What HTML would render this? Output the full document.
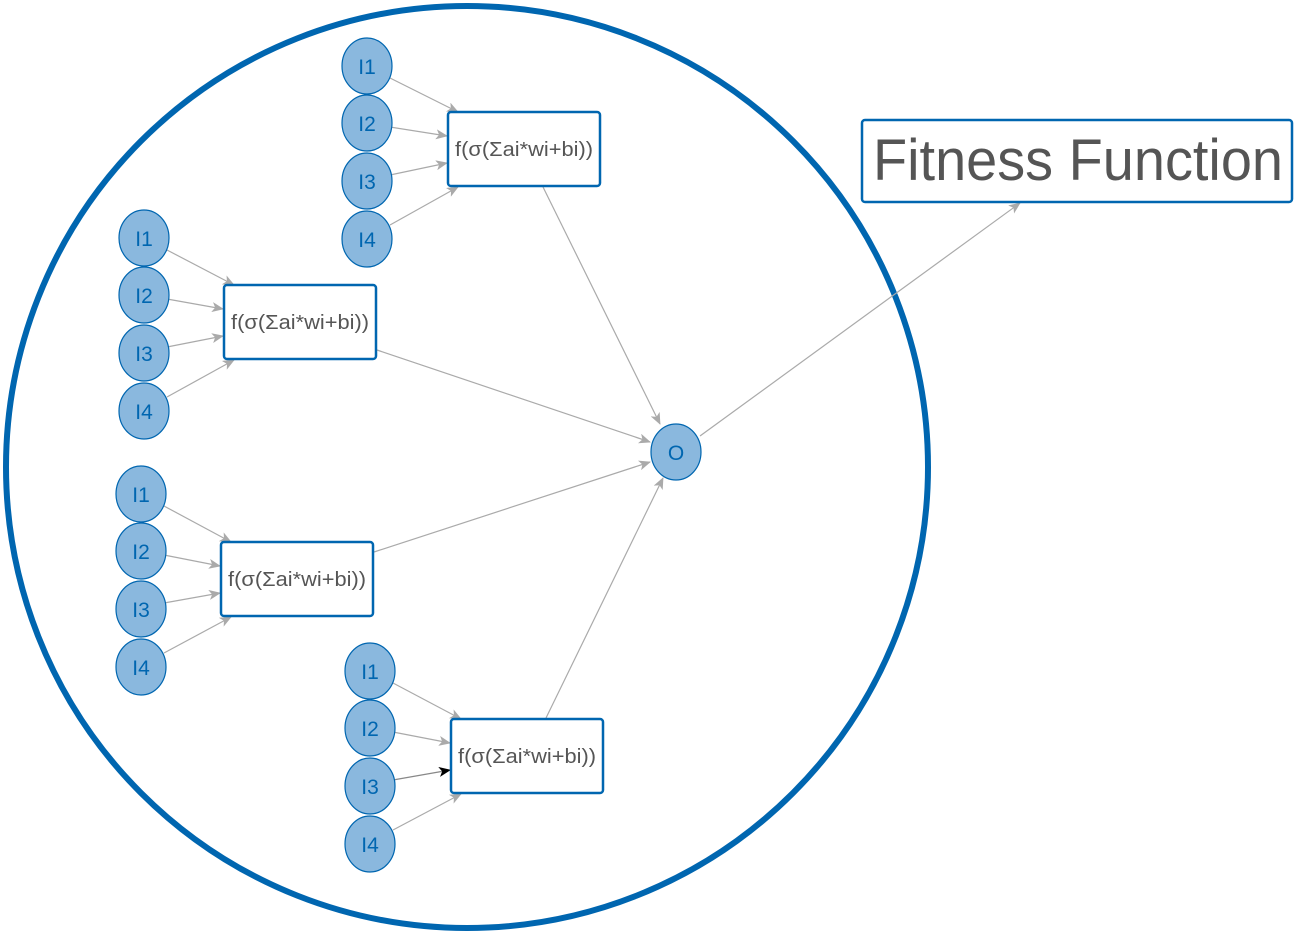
<!DOCTYPE html>
<html><head><meta charset="utf-8"><style>
body{margin:0;background:#fff;width:1294px;height:933px;overflow:hidden}
svg text{font-family:"Liberation Sans",sans-serif}
</style></head><body>
<svg width="1294" height="933" viewBox="0 0 1294 933">
<defs>
<marker id="ah" markerWidth="12" markerHeight="10" refX="11" refY="5" orient="auto" markerUnits="userSpaceOnUse"><path d="M0,0 L12,5 L0,10 L3,5 Z" fill="#aaa"/></marker>
<marker id="ahb" markerWidth="12" markerHeight="10" refX="11" refY="5" orient="auto" markerUnits="userSpaceOnUse"><path d="M0,0 L12,5 L0,10 L3,5 Z" fill="#000"/></marker>
</defs>
<circle cx="467" cy="467" r="461" fill="none" stroke="#0066b0" stroke-width="6"/>
<g id="g"></g>
<line x1="700" y1="436" x2="1020" y2="203" stroke="#aaa" stroke-width="1.2" marker-end="url(#ah)"/>
<rect x="862" y="120" width="430" height="82" rx="3" fill="#fff" stroke="#0066b0" stroke-width="2.5"/>
<text x="873" y="180" font-size="58" fill="#555" textLength="410" lengthAdjust="spacingAndGlyphs">Fitness Function</text>
<ellipse cx="676" cy="452" rx="25" ry="28" fill="#8ab8de" stroke="#0066b0" stroke-width="1.2"/>
<text x="676" y="460" font-size="21" fill="#0066b0" text-anchor="middle">O</text>
</svg>
<script>
const groups=[{nx:367,ny:66,bx:448,by:112,ex:[543,187],et:[660,424]},
{nx:144,ny:238,bx:224,by:285,ex:[377,350],et:[650,442]},
{nx:141,ny:494,bx:221,by:542,ex:[374,552],et:[650,462]},
{nx:370,ny:671,bx:451,by:719,ex:[546,718],et:[663,478]}];
const ys=[0,57,115,173];
const NS="http://www.w3.org/2000/svg";
const g=document.getElementById('g');
function mk(t,a,p){const e=document.createElementNS(NS,t);for(const k in a)e.setAttribute(k,a[k]);(p||g).appendChild(e);return e;}
groups.forEach((G,gi)=>{
  const hid=mk('line',{x1:G.ex[0],y1:G.ex[1],x2:G.et[0],y2:G.et[1],stroke:'#aaa','stroke-width':1.2,'marker-end':'url(#ah)'});
  
  
  const tgt=[[G.bx+10,G.by],[G.bx-1,G.by+24],[G.bx-1,G.by+51],[G.bx+10,G.by+75]];
  ys.forEach((dy,i)=>{
    const cx=G.nx,cy=G.ny+dy;
    const sx=cx+23,sy=cy+[12,4,-6,-14][i];
    const l=mk('line',{x1:sx,y1:sy,x2:tgt[i][0],y2:tgt[i][1],stroke:(gi==3&&i==2)?'#888':'#aaa','stroke-width':1.2,'marker-end':(gi==3&&i==2)?'url(#ahb)':'url(#ah)'});
    
    
    const e=mk('ellipse',{cx:cx,cy:cy,rx:25,ry:28,fill:'#8ab8de',stroke:'#0066b0','stroke-width':1.2});
    
    
    const t=mk('text',{x:cx,y:cy+8,'font-size':21,fill:'#0066b0','text-anchor':'middle'});
    t.textContent='I'+(i+1);
    
    
  });
  const r=mk('rect',{x:G.bx,y:G.by,width:152,height:74,rx:3,fill:'#fff',stroke:'#0066b0','stroke-width':2.5});
  
  
  const t=mk('text',{x:G.bx+7,y:G.by+44,'font-size':20,fill:'#555',textLength:138,lengthAdjust:'spacingAndGlyphs'});
  t.textContent='f(σ(Σai*wi+bi))';
  
  
});
</script>
</body></html>
